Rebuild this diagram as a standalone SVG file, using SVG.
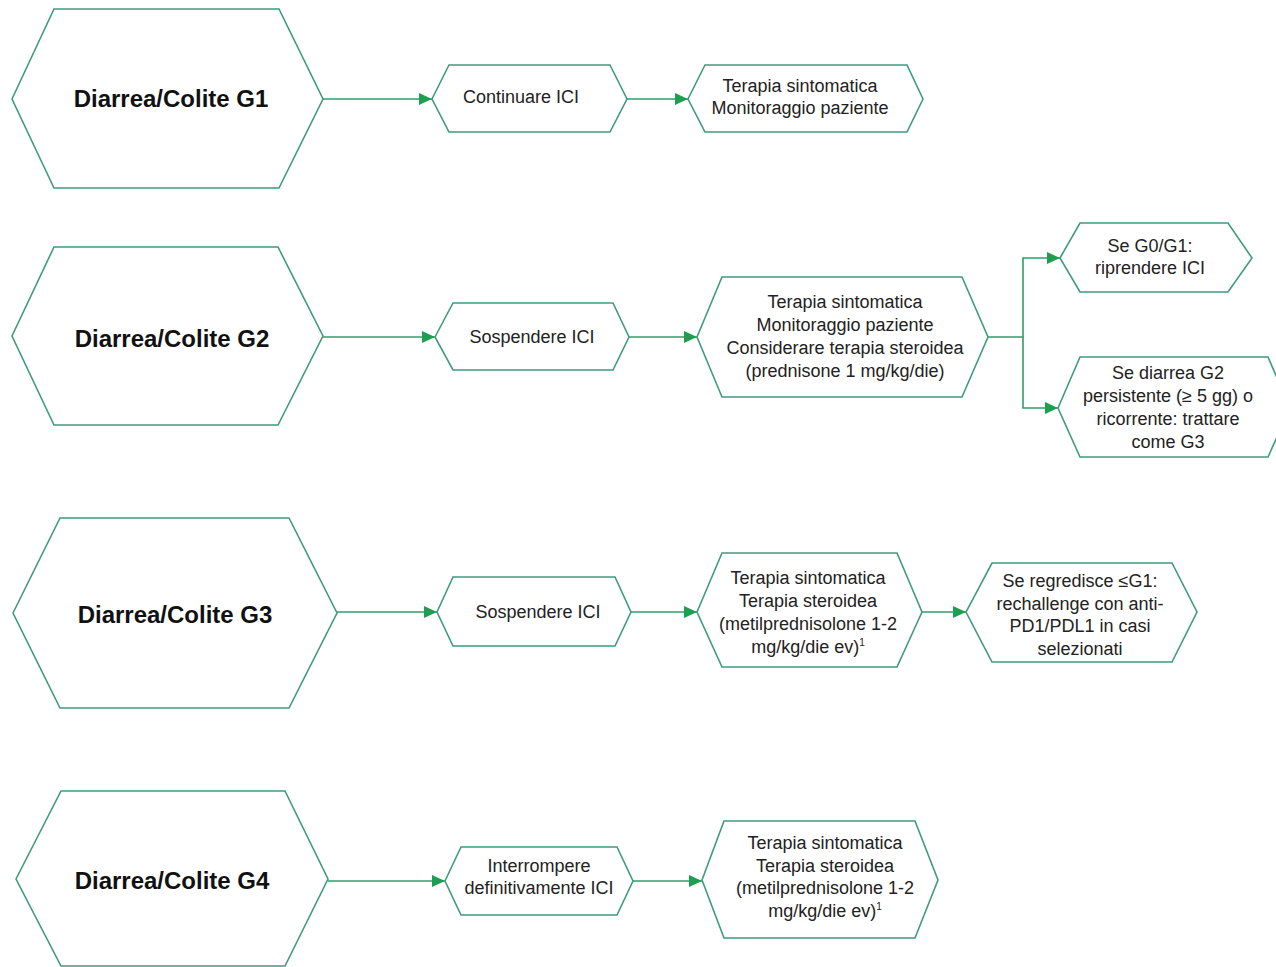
<svg xmlns="http://www.w3.org/2000/svg" width="1276" height="967" viewBox="0 0 1276 967">
<style>
.hex{fill:#ffffff;stroke:#3f9b7b;stroke-width:1.6;stroke-linejoin:miter}
.title{font-family:"Liberation Sans",Arial,sans-serif;font-weight:bold;font-size:24px;fill:#111;text-anchor:middle}
.t{font-family:"Liberation Sans",Arial,sans-serif;font-size:18px;fill:#222;text-anchor:middle}
.sup{font-size:10px}
.conn{fill:none;stroke:#2f9e68;stroke-width:1.6}
</style>
<defs>
<marker id="arr" markerUnits="userSpaceOnUse" markerWidth="14" markerHeight="12" refX="13" refY="6" orient="auto">
<path d="M0,0 L13,6 L0,12 Z" fill="#1e9e50"/>
</marker>
</defs>
<rect width="1276" height="967" fill="#ffffff"/>

<g id="connectors">
<path class="conn" d="M323,99 H432" marker-end="url(#arr)"/>
<path class="conn" d="M627,99 H688" marker-end="url(#arr)"/>
<path class="conn" d="M323,337 H435" marker-end="url(#arr)"/>
<path class="conn" d="M629,337 H697" marker-end="url(#arr)"/>
<path class="conn" d="M988,337 H1023 V258 H1060" marker-end="url(#arr)"/>
<path class="conn" d="M1023,337 V408 H1058" marker-end="url(#arr)"/>
<path class="conn" d="M337,612 H437" marker-end="url(#arr)"/>
<path class="conn" d="M631,612 H697" marker-end="url(#arr)"/>
<path class="conn" d="M922,612 H966" marker-end="url(#arr)"/>
<path class="conn" d="M328,881 H445" marker-end="url(#arr)"/>
<path class="conn" d="M633,881 H702" marker-end="url(#arr)"/>
</g>

<g id="g1">
<polygon class="hex" points="12,99 54,9 279,9 323,99 279,188 54,188"/>
<text class="title" x="171" y="107">Diarrea/Colite G1</text>
</g>
<g id="g1-continuare">
<polygon class="hex" points="432,99 449,65 610,65 627,99 610,132 449,132"/>
<text class="t" x="521" y="103">Continuare ICI</text>
</g>
<g id="g1-terapia">
<polygon class="hex" points="688,99 705,65 907,65 923,99 907,132 705,132"/>
<text class="t" x="800" y="92">Terapia sintomatica</text>
<text class="t" x="800" y="114">Monitoraggio paziente</text>
</g>

<g id="g2">
<polygon class="hex" points="12,336 54,247 278,247 323,336 278,425 54,425"/>
<text class="title" x="172" y="347">Diarrea/Colite G2</text>
</g>
<g id="g2-sospendere">
<polygon class="hex" points="435,337 453,303 613,303 629,337 613,370 453,370"/>
<text class="t" x="532" y="343">Sospendere ICI</text>
</g>
<g id="g2-terapia">
<polygon class="hex" points="697,337 722,277 962,277 988,337 962,397 722,397"/>
<text class="t" x="845" y="308">Terapia sintomatica</text>
<text class="t" x="845" y="331">Monitoraggio paziente</text>
<text class="t" x="845" y="354">Considerare terapia steroidea</text>
<text class="t" x="845" y="377">(prednisone 1 mg/kg/die)</text>
</g>
<g id="g2-riprendere">
<polygon class="hex" points="1060,258 1080,223 1228,223 1252,258 1228,292 1080,292"/>
<text class="t" x="1150" y="252">Se G0/G1:</text>
<text class="t" x="1150" y="274">riprendere ICI</text>
</g>
<g id="g2-persistente">
<polygon class="hex" points="1058,408 1080,357 1268,357 1290,408 1268,457 1080,457"/>
<text class="t" x="1168" y="379">Se diarrea G2</text>
<text class="t" x="1168" y="402">persistente (≥ 5 gg) o</text>
<text class="t" x="1168" y="425">ricorrente: trattare</text>
<text class="t" x="1168" y="448">come G3</text>
</g>

<g id="g3">
<polygon class="hex" points="13,613 60,518 289,518 337,613 289,708 60,708"/>
<text class="title" x="175" y="623">Diarrea/Colite G3</text>
</g>
<g id="g3-sospendere">
<polygon class="hex" points="437,612 453,577 615,577 631,612 615,646 453,646"/>
<text class="t" x="538" y="618">Sospendere ICI</text>
</g>
<g id="g3-terapia">
<polygon class="hex" points="697,612 722,553 897,553 922,612 897,667 722,667"/>
<text class="t" x="808" y="584">Terapia sintomatica</text>
<text class="t" x="808" y="607">Terapia steroidea</text>
<text class="t" x="808" y="630">(metilprednisolone 1-2</text>
<text class="t" x="808" y="653">mg/kg/die ev)<tspan class="sup" dy="-7">1</tspan></text>
</g>
<g id="g3-rechallenge">
<polygon class="hex" points="966,612 992,563 1172,563 1197,612 1172,662 992,662"/>
<text class="t" x="1080" y="587">Se regredisce ≤G1:</text>
<text class="t" x="1080" y="610">rechallenge con anti-</text>
<text class="t" x="1080" y="632">PD1/PDL1 in casi</text>
<text class="t" x="1080" y="655">selezionati</text>
</g>

<g id="g4">
<polygon class="hex" points="16,879 61,791 285,791 328,879 285,966 61,966"/>
<text class="title" x="172" y="889">Diarrea/Colite G4</text>
</g>
<g id="g4-interrompere">
<polygon class="hex" points="445,881 461,847 617,847 633,881 617,915 461,915"/>
<text class="t" x="539" y="872">Interrompere</text>
<text class="t" x="539" y="894">definitivamente ICI</text>
</g>
<g id="g4-terapia">
<polygon class="hex" points="702,880 724,821 915,821 938,880 915,938 724,938"/>
<text class="t" x="825" y="849">Terapia sintomatica</text>
<text class="t" x="825" y="872">Terapia steroidea</text>
<text class="t" x="825" y="894">(metilprednisolone 1-2</text>
<text class="t" x="825" y="917">mg/kg/die ev)<tspan class="sup" dy="-7">1</tspan></text>
</g>
</svg>
